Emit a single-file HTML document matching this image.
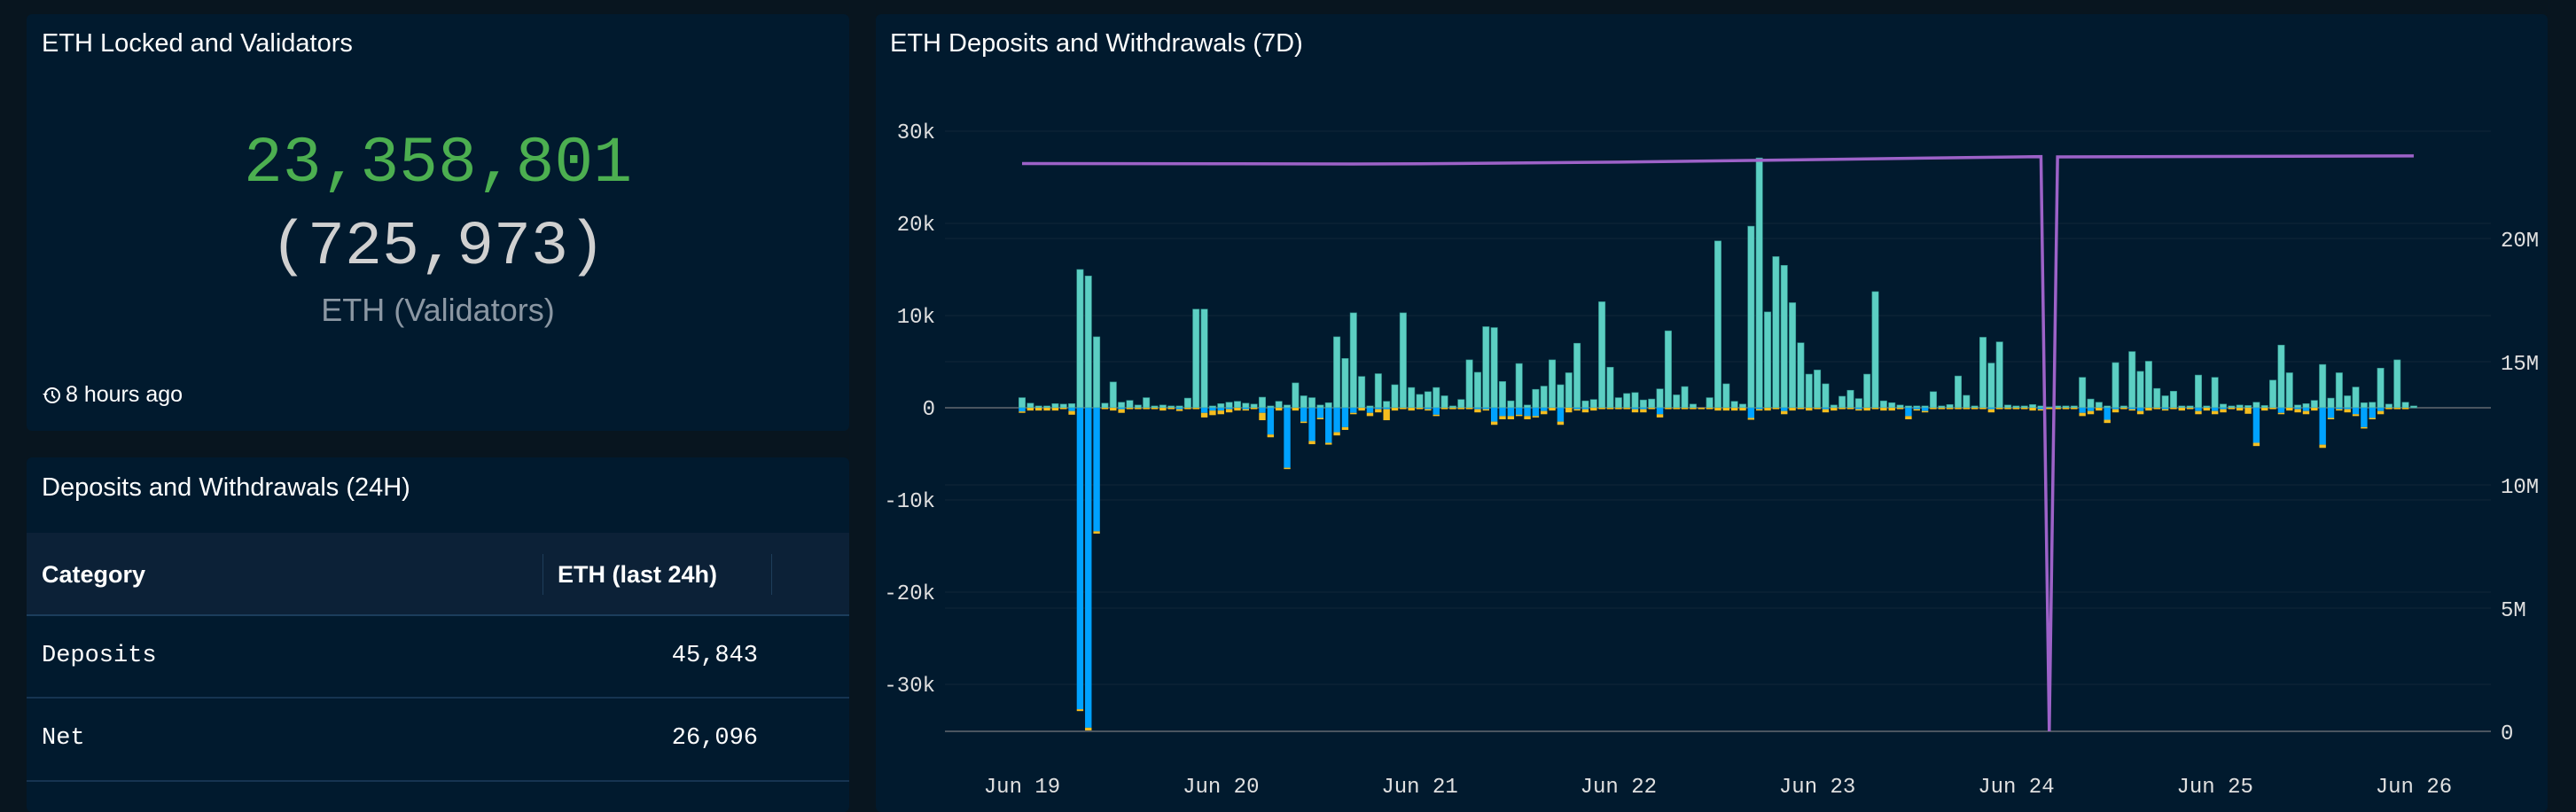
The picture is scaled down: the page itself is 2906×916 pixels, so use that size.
<!DOCTYPE html>
<html><head><meta charset="utf-8">
<style>
*{margin:0;padding:0;box-sizing:border-box}
body{width:2906px;height:904px;background:#08151f;overflow:hidden;position:relative;font-family:"Liberation Sans",sans-serif;color:#fff}
.panel{position:absolute;background:#011a2e;border-radius:6px}
.title{position:absolute;font-size:29px;color:#fff;white-space:nowrap}
.mono{font-family:"Liberation Mono",monospace}
</style></head><body>
<div class="panel" style="left:30px;top:16px;width:928px;height:470px">
  <div class="title" style="left:17px;top:17px">ETH Locked and Validators</div>
  <div class="mono" style="position:absolute;left:0;width:928px;top:124px;text-align:center;font-size:73px;color:#4caf50;line-height:90px">23,358,801</div>
  <div class="mono" style="position:absolute;left:0;width:928px;top:219px;text-align:center;font-size:70px;color:#d0d0d0;line-height:90px">(725,973)</div>
  <div style="position:absolute;left:0;width:928px;top:313px;text-align:center;font-size:36px;color:#8b97a3">ETH (Validators)</div>
  <div style="position:absolute;left:17px;top:415px;font-size:25px;color:#fff;display:flex;align-items:center;gap:5px">
    <svg width="22" height="22" viewBox="0 0 22 22"><circle cx="12" cy="11" r="8" fill="none" stroke="#fff" stroke-width="2"/><path d="M12 6v5l3 3" fill="none" stroke="#fff" stroke-width="2"/><path d="M1 9l3 3 3-3" fill="#fff"/></svg>8 hours ago</div>
</div>
<div class="panel" style="left:30px;top:516px;width:928px;height:400px">
  <div class="title" style="left:17px;top:18px">Deposits and Withdrawals (24H)</div>
  <div style="position:absolute;left:0;top:85px;width:928px;height:94px;background:#0c2137;border-bottom:2px solid #1c3d5c">
    <div style="position:absolute;left:17px;top:32px;font-size:27px;font-weight:bold">Category</div>
    <div style="position:absolute;left:582px;top:24px;width:1px;height:46px;background:#1e3d5a"></div>
    <div style="position:absolute;left:599px;top:32px;font-size:27px;font-weight:bold">ETH (last 24h)</div>
    <div style="position:absolute;left:840px;top:24px;width:1px;height:46px;background:#1e3d5a"></div>
  </div>
  <div style="position:absolute;left:0;top:179px;width:928px;height:93px;border-bottom:2px solid #163451">
    <div class="mono" style="position:absolute;left:17px;top:30px;font-size:27px">Deposits</div>
    <div class="mono" style="position:absolute;right:103px;top:30px;font-size:27px">45,843</div>
  </div>
  <div style="position:absolute;left:0;top:272px;width:928px;height:94px;border-bottom:2px solid #163451">
    <div class="mono" style="position:absolute;left:17px;top:30px;font-size:27px">Net</div>
    <div class="mono" style="position:absolute;right:103px;top:30px;font-size:27px">26,096</div>
  </div>
</div>
<div class="panel" style="left:988px;top:16px;width:1886px;height:900px">
  <div class="title" style="left:16px;top:17px">ETH Deposits and Withdrawals (7D)</div>
</div>
<svg id="chart" width="2906" height="904" style="position:absolute;left:0;top:0"></svg>
<script>
const deposits=[1.1,.5,.2,.2,.45,.4,.45,15.0,14.3,7.7,.5,2.8,.6,.8,.3,1.1,.2,.3,.2,.2,1.05,10.7,10.7,.2,.45,.6,.7,.5,.4,1.15,.2,.7,.3,2.7,1.3,1.1,.3,.55,7.7,5.35,10.3,3.4,
.2,3.7,.7,2.5,10.3,2.2,1.45,1.75,2.2,1.3,.2,.9,5.2,3.85,8.8,8.7,2.85,.75,4.8,.3,2.0,2.35,5.2,2.5,3.8,7.0,.75,.9,11.5,4.4,1.1,1.55,1.65,.85,.95,2.05,8.35,1.4,2.3,.4,0,1.1,18.1,
2.6,.7,.4,19.7,27.1,10.4,16.4,15.45,11.4,7.05,3.65,4.1,2.6,.3,1.25,1.9,1.0,3.65,12.6,.75,.55,.3,.2,.2,.2,1.75,.2,.35,3.45,1.35,.2,7.65,4.85,7.15,.3,.2,.2,.35,.2,.1,.2,.2,.2,
3.3,.95,.6,.2,4.9,.2,6.1,3.95,5.05,2.1,1.3,1.8,.2,.2,3.55,.2,3.3,.4,.2,.3,.25,.6,.25,3.0,6.8,3.8,.3,.45,.8,4.7,1.05,3.8,1.3,2.25,.55,.6,4.3,.4,5.2,.6,.2];
const withdrawals=[.4,0,0,0,0,0,.35,32.7,34.7,13.4,0,0,.15,0,0,0,0,0,0,.15,0,0,.55,.3,.3,.15,0,.15,0,.55,2.9,0,6.5,0,1.5,3.6,1.1,3.8,2.65,2.1,.55,0,
.55,.15,.15,0,0,0,0,.15,.75,0,0,0,0,.15,.15,1.5,.9,.9,.75,.9,.9,.35,0,1.5,0,.15,.15,0,0,0,0,0,.15,.15,0,.7,0,0,0,0,0,0,0,
0,0,0,1.1,.15,0,0,.35,0,0,0,0,.15,0,0,0,.15,0,0,0,0,0,.9,.15,.35,0,0,0,0,0,0,0,.15,0,0,0,0,0,.15,0,0,0,
0,.55,.35,0,1.3,.15,0,.15,.35,0,0,.15,0,0,0,.35,0,.35,.15,0,0,0,3.8,0,0,.55,0,.15,.35,0,4.0,1.1,.15,.15,.7,2.1,1.1,.35,0,0,0];
const partial=[.15,.3,.3,.3,.3,.15,.4,.2,.3,.25,.15,.3,.4,.15,.15,.15,.15,.3,.15,.2,.15,.15,.5,.5,.4,.35,.3,.15,.15,.8,.3,.3,.15,.3,.15,.35,.15,.2,.35,.3,.15,.3,
.35,.35,1.2,.3,.15,.3,.15,.15,.15,.15,.15,.15,.15,.35,.15,.35,.35,.35,.15,.35,.15,.35,.3,.35,.5,.15,.35,.3,.15,.15,.15,.15,.35,.35,.15,.35,.15,.15,.15,.15,.15,.15,.3,
.3,.3,.3,.2,.15,.3,.15,.35,.3,.15,.3,.15,.35,.3,.15,.15,.15,.3,.15,.3,.3,.15,.35,.15,.15,.15,.15,.15,.15,.15,.15,.15,.35,.15,.15,.15,.15,.3,.15,.15,.15,.15,
.15,.35,.35,.3,.35,.35,.15,.15,.35,.3,.15,.15,.15,.3,.15,.35,.3,.35,.35,.15,.3,.65,.35,.3,.15,.15,.3,.35,.35,.3,.35,.15,.15,.35,.2,.15,.15,.35,.15,.15,.15];
const lineHours=[0,24,40,48,72,96,100,123,124,125,148,168];
const lineValues=[23.04,23.03,23.02,23.03,23.1,23.2,23.22,23.32,0,23.31,23.33,23.35];
const leftTicks=[30,20,10,0,-10,-20,-30];
const leftTickLabels=["30k","20k","10k","0","-10k","-20k","-30k"];
const rightTicks=[20,15,10,5,0];
const rightTickLabels=["20M","15M","10M","5M","0"];
const dayLabels=["Jun 19","Jun 20","Jun 21","Jun 22","Jun 23","Jun 24","Jun 25","Jun 26"];

const svg=document.getElementById('chart');
const NS='http://www.w3.org/2000/svg';
const X0=1066,X1=2810,zeroY=460,pxPerK=10.4;
const t0=1153,pxPerHour=9.345;
const xH=h=>t0+h*pxPerHour;
const yL=v=>zeroY-v*pxPerK;
const yR=m=>825-m*27.8;
function mk(tag,attrs){const e=document.createElementNS(NS,tag);for(const k in attrs)e.setAttribute(k,attrs[k]);svg.appendChild(e);return e;}
leftTicks.forEach((v,i)=>{
  const g=mk('line',{x1:X0,x2:X1,y1:yL(v),y2:yL(v),stroke:v===0?'#4a5560':'#0c2235','stroke-width':v===0?2:1.5});
  
  
  const t=mk('text',{x:1055,y:yL(v)+8,'text-anchor':'end',fill:'#e0e0e0','font-size':24,'font-family':'Liberation Mono, monospace'});
  t.textContent=leftTickLabels[i];
  
  
});
rightTicks.forEach((v,i)=>{
  if(v>0){const g=mk('line',{x1:X0,x2:X1,y1:yR(v),y2:yR(v),stroke:'#0c2235','stroke-width':1.5});
  
  }
  const t=mk('text',{x:2821,y:yR(v)+9,fill:'#e0e0e0','font-size':24,'font-family':'Liberation Mono, monospace'});
  t.textContent=rightTickLabels[i];
  
  
});
const ax=mk('line',{x1:X0,x2:X1,y1:825,y2:825,stroke:'#4a5560','stroke-width':2});


dayLabels.forEach((d,i)=>{
  const t=mk('text',{x:xH(i*24),y:894,'text-anchor':'middle',fill:'#e0e0e0','font-size':24,'font-family':'Liberation Mono, monospace'});
  t.textContent=d;
  
  
});
const bw=7.4;
deposits.forEach((v,i)=>{
  const x=xH(i)-bw/2;
  if(v>0){const r=mk('rect',{x:x,y:yL(v),width:bw,height:v*pxPerK,fill:'#5ccfc3',stroke:'#2f8f88','stroke-width':0.6});
  
  }
  const w=withdrawals[i];
  if(w>0){const r=mk('rect',{x:x,y:zeroY,width:bw,height:w*pxPerK,fill:'#00a2ff'});
  
  }
  const p=partial[i];
  if(p>0){const r=mk('rect',{x:x,y:yL(-w),width:bw,height:p*pxPerK,fill:'#f5bd1f'});
  
  }
});
const pts=lineHours.map((h,i)=>xH(h)+','+yR(lineValues[i])).join(' ');
const pl=mk('polyline',{points:pts,fill:'none',stroke:'#9d62c8','stroke-width':3.5,'stroke-linejoin':'miter'});


</script>
</body></html>
